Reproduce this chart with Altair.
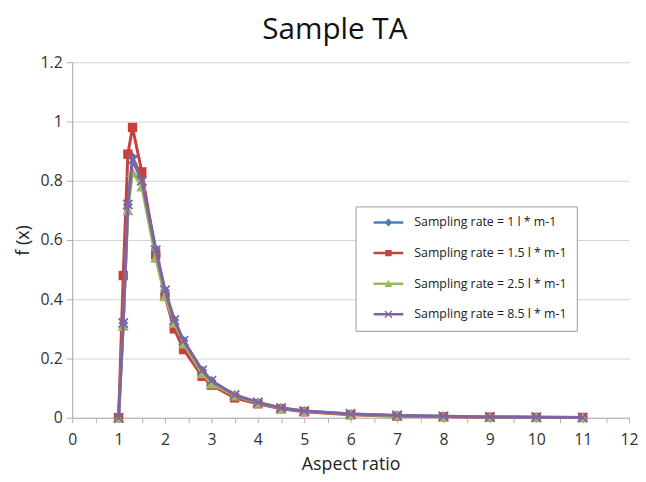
import altair as alt
import pandas as pd

# ---- data ----
x_vals = [1, 1.1, 1.2, 1.3, 1.5, 1.8, 2, 2.2, 2.4, 2.8, 3, 3.5, 4, 4.5, 5, 6, 7, 8, 9, 10, 11]
blue_vals = [0, 0.32, 0.72, 0.88, 0.81, 0.57, 0.43, 0.33, 0.26, 0.16, 0.125, 0.077, 0.052, 0.033, 0.023, 0.013, 0.008, 0.005, 0.003, 0.002, 0.001]
red_vals = [0, 0.48, 0.89, 0.98, 0.83, 0.55, 0.41, 0.30, 0.23, 0.14, 0.11, 0.067, 0.047, 0.03, 0.02, 0.01, 0.005, 0.003, 0.002, 0.001, 0.001]
green_vals = [0, 0.31, 0.70, 0.83, 0.78, 0.54, 0.41, 0.32, 0.25, 0.15, 0.115, 0.075, 0.05, 0.032, 0.022, 0.012, 0.007, 0.004, 0.003, 0.002, 0.001]
purple_vals = [0, 0.32, 0.72, 0.87, 0.80, 0.565, 0.43, 0.33, 0.26, 0.16, 0.125, 0.077, 0.052, 0.033, 0.023, 0.013, 0.008, 0.005, 0.003, 0.002, 0.001]
series_labels = [
    "Sampling rate = 1 l * m-1",
    "Sampling rate = 1.5 l * m-1",
    "Sampling rate = 2.5 l * m-1",
    "Sampling rate = 8.5 l * m-1",
]
x_ticks = [i * 0.5 for i in range(25)]
y_ticks = [0, 0.2, 0.4, 0.6, 0.8, 1.0, 1.2]

# ---- styles ----
colors = ["#4A7EBB", "#C8403C", "#9BBB59", "#8064A2"]
FONT = "Open Sans"


def poly(pts):
    # ensure consistent (clockwise on screen) winding
    area = sum(pts[i][0] * pts[(i + 1) % len(pts)][1] - pts[(i + 1) % len(pts)][0] * pts[i][1]
               for i in range(len(pts)))
    if area < 0:
        pts = pts[::-1]
    s = "M%.3f,%.3f" % pts[0]
    for p in pts[1:]:
        s += "L%.3f,%.3f" % p
    return s + "Z"


line_seg = poly([(-3, -0.25), (3, -0.25), (3, 0.25), (-3, 0.25)])
a, d = 0.7, 0.09
x_path = (poly([(-a + d, -a - d), (a + d, a - d), (a - d, a + d), (-a - d, -a + d)])
          + poly([(-a - d, a - d), (a - d, -a - d), (a + d, -a + d), (-a + d, a + d)]))
x_mark_path = "M-1,-1L1,1M-1,1L1,-1"
legend_paths = [
    line_seg + poly([(0, -0.8), (0.8, 0), (0, 0.8), (-0.8, 0)]),
    line_seg + poly([(-0.65, -0.65), (0.65, -0.65), (0.65, 0.65), (-0.65, 0.65)]),
    line_seg + poly([(0, -0.8), (0.8, 0.65), (-0.8, 0.65)]),
    line_seg + x_path,
]
shapes = ["diamond", "square", "triangle-up", x_mark_path]
sizes = [100, 90, 130, 90]

rows = []
for lab, vals in zip(series_labels, [blue_vals, red_vals, green_vals, purple_vals]):
    for xv, yv in zip(x_vals, vals):
        rows.append({"x": xv, "y": yv, "series": lab})
df = pd.DataFrame(rows)

x_enc = alt.X(
    "x:Q",
    scale=alt.Scale(domain=[0, 12], nice=False, zero=False),
    axis=alt.Axis(
        values=x_ticks,
        format="~g",
        labelExpr="datum.value % 1 === 0 ? datum.label : ''",
        labelOverlap=False,
        labelFlush=False,
        grid=False,
        title="Aspect ratio",
        tickSize=5,
        labelPadding=9,
        titlePadding=8,
    ),
)
y_enc = alt.Y(
    "y:Q",
    scale=alt.Scale(domain=[0, 1.2], nice=False),
    axis=alt.Axis(
        values=y_ticks,
        format="~g",
        grid=True,
        title="f (x)",
        tickSize=6,
        labelPadding=4,
        titlePadding=8,
    ),
)

base = alt.Chart(df)
layers = []
for lab, col, shp, sz in zip(series_labels, colors, shapes, sizes):
    sub = base.transform_filter(alt.datum.series == lab)
    layers.append(sub.mark_line(strokeWidth=3, color=col).encode(x=x_enc, y=y_enc))
    if shp == x_mark_path:
        pm = sub.mark_point(shape=shp, size=sz, filled=False, color=col, strokeWidth=1.8, opacity=1)
    else:
        pm = sub.mark_point(shape=shp, size=sz, filled=True, color=col, opacity=1)
    layers.append(pm.encode(x=x_enc, y=y_enc))

legend_def = alt.Legend(
    orient="none",
    legendX=287,
    legendY=146,
    title=None,
    strokeColor="#999999",
    fillColor="white",
    padding=10,
    rowPadding=18,
    symbolOffset=17,
    labelOffset=20,
    labelFontSize=12.5,
    labelFont=FONT,
    labelColor="#222222",
    labelLimit=300,
)
legend_layer = (
    base.transform_filter("datum.x > 100")
    .mark_point(filled=True, size=144, opacity=1)
    .encode(
        x=x_enc,
        y=y_enc,
        color=alt.Color("series:N", scale=alt.Scale(domain=series_labels, range=colors), legend=legend_def),
        shape=alt.Shape("series:N", scale=alt.Scale(domain=series_labels, range=legend_paths), legend=legend_def),
    )
)

chart = (
    alt.layer(*layers, legend_layer)
    .properties(
        width=564,
        height=360,
        title=alt.TitleParams("Sample TA", fontSize=30, font=FONT, fontWeight="normal", color="#111111", dx=-16, offset=10),
        autosize=alt.AutoSizeParams(type="none"),
        padding={"left": 65, "top": 52, "right": 9, "bottom": 54},
    )
    .configure_view(stroke=None)
    .configure_axis(
        labelFont=FONT,
        titleFont=FONT,
        labelFontSize=16,
        titleFontSize=18,
        labelColor="#333333",
        titleColor="#222222",
        titleFontWeight="normal",
        domainColor="#b0b0b0",
        tickColor="#b0b0b0",
        gridColor="#d4d4d4",
        gridWidth=1.2,
        domainWidth=1.2,
    )
)

chart.save("out.html", embed_options={"renderer": "svg", "actions": False})
